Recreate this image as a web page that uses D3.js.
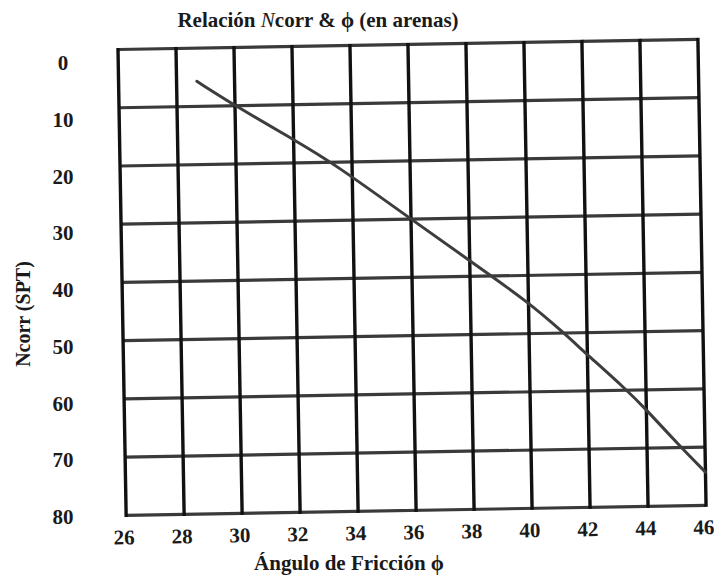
<!DOCTYPE html>
<html>
<head>
<meta charset="utf-8">
<script src="https://cdn.jsdelivr.net/npm/d3@7/dist/d3.min.js"></script>
<style>
  html, body { margin: 0; padding: 0; background: #fff; }
  svg { display: block; }
  text { font-family: "Liberation Serif", "Times New Roman", serif; fill: #1a1a1a; }
</style>
</head>
<body>
<svg id="chart" width="714" height="578"></svg>
<script>
// Friction angle (degrees) and corrected SPT blow count along the curve
const phi   = [28.7, 30, 32, 33.4, 36, 38, 40, 41.2, 42, 43.3, 44, 45.1, 46];
const ncorr = [5.7, 10, 16, 20.3, 30, 37.3, 44.6, 50, 53.8, 59.8, 63.4, 69.6, 74.3];

// Tick labels
const xTicks = [26, 28, 30, 32, 34, 36, 38, 40, 42, 44, 46];
const yTicks = [0, 10, 20, 30, 40, 50, 60, 70, 80];

const svg = d3.select("#chart");
const W = 580, H = 466;

const x = d3.scaleLinear().domain([26, 46]).range([0, W]);
const y = d3.scaleLinear().domain([0, 80]).range([0, H]);
// y labels sit on their own slightly offset ladder
const yLab = d3.scaleLinear().domain([0, 80]).range([63, 517]);

// plot frame, slightly tilted
const g = svg.append("g").attr("transform", "translate(118,49.5) rotate(-1)");

// horizontal grid lines
g.append("g").selectAll("line").data(yTicks).join("line")
  .attr("x1", x(26)).attr("x2", x(46))
  .attr("y1", d => y(d)).attr("y2", d => y(d))
  .attr("stroke", "#3a3a3a").attr("stroke-width", 3.2);

// vertical grid lines
g.append("g").selectAll("line").data(xTicks).join("line")
  .attr("x1", d => x(d)).attr("x2", d => x(d))
  .attr("y1", y(0) - 1.5).attr("y2", y(80) + 1.5)
  .attr("stroke", "#111").attr("stroke-width", 3.4);

// curve
const pts = phi.map((p, i) => [p, ncorr[i]]);
g.append("path")
  .datum(pts)
  .attr("fill", "none")
  .attr("stroke", "#3d3d3d")
  .attr("stroke-width", 3)
  .attr("stroke-linecap", "round")
  .attr("d", d3.line().x(d => x(d[0])).y(d => y(d[1])).curve(d3.curveBasis));

// x tick labels
const xAxis = g.append("g")
  .attr("transform", `translate(-3,${H + 14})`)
  .call(d3.axisBottom(x).tickValues(xTicks).tickSize(0).tickPadding(0).tickFormat(d3.format("d")));
xAxis.select(".domain").remove();
xAxis.selectAll("text")
  .attr("font-family", "Liberation Serif").attr("font-weight", "bold")
  .attr("font-size", 21).attr("fill", "#1a1a1a").attr("dy", "0.71em");

// y tick labels
const yAxis = svg.append("g")
  .attr("transform", "translate(72,0)")
  .call(d3.axisLeft(yLab).tickValues(yTicks).tickSize(0).tickPadding(0).tickFormat(d3.format("d")));
yAxis.select(".domain").remove();
yAxis.selectAll("text")
  .attr("font-family", "Liberation Serif").attr("font-weight", "bold")
  .attr("font-size", 21).attr("fill", "#1a1a1a")
  .attr("text-anchor", "middle").attr("x", -9);

// title
const title = svg.append("text")
  .attr("x", 318).attr("y", 27)
  .attr("text-anchor", "middle")
  .attr("font-size", 21).attr("font-weight", "bold");
title.append("tspan").text("Relación ");
title.append("tspan").attr("font-style", "italic").attr("font-weight", "normal").text("N");
title.append("tspan").text("corr & ϕ (en arenas)");

// x axis title
svg.append("text")
  .attr("x", 349).attr("y", 570)
  .attr("text-anchor", "middle")
  .attr("font-size", 21).attr("font-weight", "bold")
  .text("Ángulo de Fricción ϕ");

// y axis title
svg.append("text")
  .attr("transform", "translate(30,314) rotate(-90)")
  .attr("text-anchor", "middle")
  .attr("font-size", 20).attr("font-weight", "bold")
  .text("Ncorr (SPT)");
</script>
</body>
</html>
